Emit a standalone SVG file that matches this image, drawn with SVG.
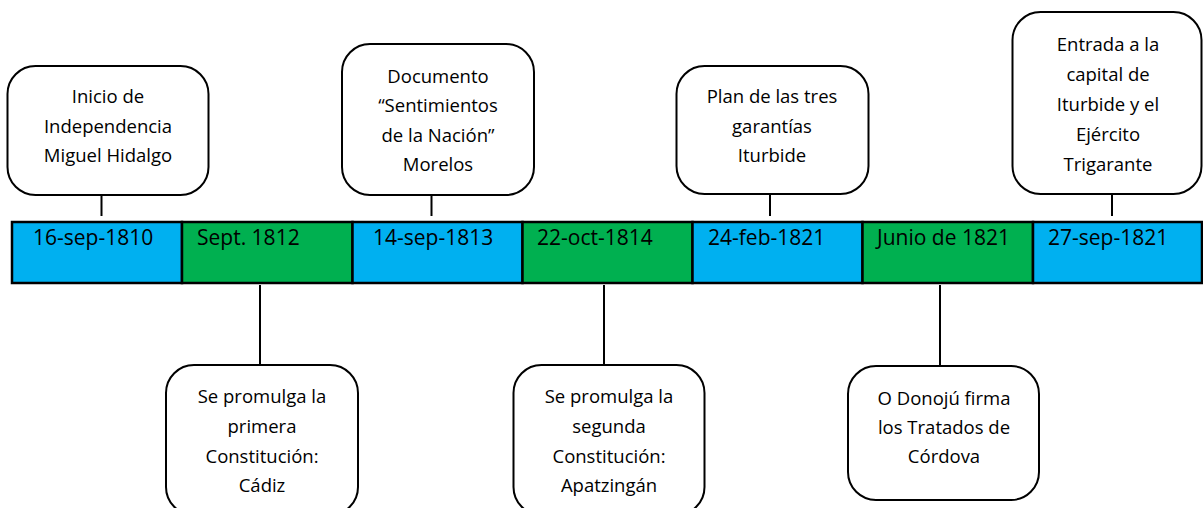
<svg xmlns="http://www.w3.org/2000/svg" width="1203" height="508" viewBox="0 0 1203 508">
<style>
.box{fill:#fff;stroke:#000;stroke-width:2}
.cell{stroke:#000;stroke-width:2.5}
.blue{fill:#00B0F0}
.green{fill:#00B050}
.con{stroke:#000;stroke-width:2;fill:none}
.t{font-family:"Open Sans","Noto Sans",sans-serif;font-size:18.5px;fill:#000;text-anchor:middle}
.d{font-family:"Open Sans","Noto Sans",sans-serif;font-size:21px;fill:#000}
</style>
<rect width="1203" height="508" fill="#fff"/>
<g id="connectors">
<line class="con" x1="101.5" y1="195" x2="101.5" y2="216"/>
<line class="con" x1="431.5" y1="195" x2="431.5" y2="216"/>
<line class="con" x1="770" y1="194" x2="770" y2="216"/>
<line class="con" x1="1112" y1="184" x2="1112" y2="216"/>
<line class="con" x1="260" y1="285" x2="260" y2="365"/>
<line class="con" x1="604" y1="285" x2="604" y2="365"/>
<line class="con" x1="940" y1="285" x2="940" y2="366"/>
</g>
<g id="timeline">
<rect class="cell blue" x="12" y="222" width="170" height="61"/>
<rect class="cell green" x="182" y="222" width="170.5" height="61"/>
<rect class="cell blue" x="352.5" y="222" width="170" height="61"/>
<rect class="cell green" x="522.5" y="222" width="170" height="61"/>
<rect class="cell blue" x="692.5" y="222" width="170" height="61"/>
<rect class="cell green" x="862.5" y="222" width="170.5" height="61"/>
<rect class="cell blue" x="1033" y="222" width="169" height="61"/>
<text class="d" x="33" y="245">16-sep-1810</text>
<text class="d" x="197" y="245">Sept. 1812</text>
<text class="d" x="373" y="245">14-sep-1813</text>
<text class="d" x="537" y="245">22-oct-1814</text>
<text class="d" x="708" y="245">24-feb-1821</text>
<text class="d" x="877" y="245">Junio de 1821</text>
<text class="d" x="1048" y="245">27-sep-1821</text>
</g>
<g id="n1">
<rect class="box" x="7.5" y="66" width="201" height="129" rx="28"/>
<text class="t" x="108" y="103">Inicio de</text>
<text class="t" x="108" y="133">Independencia</text>
<text class="t" x="108" y="162">Miguel Hidalgo</text>
</g>
<g id="n2">
<rect class="box" x="342" y="44" width="192" height="151" rx="28"/>
<text class="t" x="438" y="83">Documento</text>
<text class="t" x="438" y="112">“Sentimientos</text>
<text class="t" x="438" y="142">de la Nación”</text>
<text class="t" x="438" y="171">Morelos</text>
</g>
<g id="n3">
<rect class="box" x="676.5" y="66" width="192" height="128" rx="28"/>
<text class="t" x="772" y="103">Plan de las tres</text>
<text class="t" x="772" y="133">garantías</text>
<text class="t" x="772" y="162">Iturbide</text>
</g>
<g id="n4">
<rect class="box" x="1012.5" y="12" width="189" height="182" rx="28"/>
<text class="t" x="1108" y="51">Entrada a la</text>
<text class="t" x="1108" y="81">capital de</text>
<text class="t" x="1108" y="111">Iturbide y el</text>
<text class="t" x="1108" y="141">Ejército</text>
<text class="t" x="1108" y="171">Trigarante</text>
</g>
<g id="n5">
<rect class="box" x="166" y="365" width="192" height="150" rx="28"/>
<text class="t" x="262" y="403">Se promulga la</text>
<text class="t" x="262" y="433">primera</text>
<text class="t" x="262" y="463">Constitución:</text>
<text class="t" x="262" y="492">Cádiz</text>
</g>
<g id="n6">
<rect class="box" x="513.5" y="365" width="191" height="150" rx="28"/>
<text class="t" x="609" y="403">Se promulga la</text>
<text class="t" x="609" y="433">segunda</text>
<text class="t" x="609" y="463">Constitución:</text>
<text class="t" x="609" y="492">Apatzingán</text>
</g>
<g id="n7">
<rect class="box" x="848" y="366" width="191" height="134" rx="28"/>
<text class="t" x="944" y="405">O Donojú firma</text>
<text class="t" x="944" y="434">los Tratados de</text>
<text class="t" x="944" y="463">Córdova</text>
</g>
</svg>
